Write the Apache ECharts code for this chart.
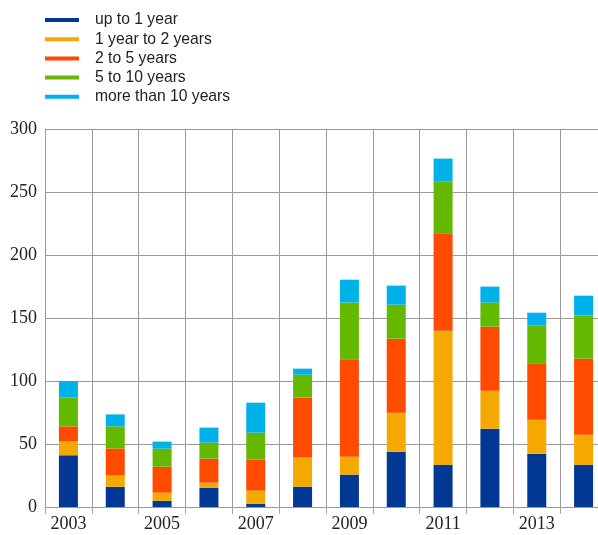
<!DOCTYPE html>
<html><head><meta charset="utf-8">
<script src="https://cdn.jsdelivr.net/npm/echarts@6/dist/echarts.min.js"></script>
<style>html,body{margin:0;padding:0;background:#fff;overflow:hidden}#c{width:598px;height:535px}</style>
</head><body><div id="c"></div>
<script>
const categories = ['2003','2004','2005','2006','2007','2008','2009','2010','2011','2012','2013','2014'];
const seriesNames = ['up to 1 year','1 year to 2 years','2 to 5 years','5 to 10 years','more than 10 years'];
const upTo1 = [41, 16, 5, 15.3, 2.6, 16.1, 25.7, 43.9, 33.6, 62.2, 42.3, 33.6];
const y1to2 = [11, 9, 6.4, 4, 10.4, 23.1, 14.2, 31, 106.3, 30.1, 27, 23.8];
const y2to5 = [12, 21.5, 20.6, 19.1, 24.8, 47.8, 77.3, 58.7, 77.3, 50.8, 44.7, 60.3];
const y5to10 = [23, 17.5, 14.3, 12.7, 21.2, 18, 45, 27, 41.3, 19.1, 30.2, 34.4];
const over10 = [13, 9.5, 5.6, 11.9, 23.8, 4.8, 18.2, 15.1, 18, 12.7, 10, 15.6];
const yTicks = [0, 50, 100, 150, 200, 250, 300];

const colors = ['#003894', '#f5a800', '#ff4b00', '#65b800', '#00b1ea'];
const values = [upTo1, y1to2, y2to5, y5to10, over10];

const chart = echarts.init(document.getElementById('c'));
chart.setOption({
  animation: false,
  color: colors,
  legend: {
    orient: 'vertical', left: 40, top: 7,
    icon: 'rect', itemWidth: 34, itemHeight: 4, itemGap: 3.2,
    textStyle: { fontFamily: 'Liberation Sans', fontSize: 15.7, color: '#222', lineHeight: 16, padding: [0,0,0,11] },
    data: seriesNames
  },
  grid: { left: 45, top: 129, bottom: 28, right: -9, containLabel: false, outerBoundsMode: 'none' },
  xAxis: {
    type: 'category', data: categories,
    axisLine: { lineStyle: { color: '#999', width: 1 } },
    axisTick: { show: true, interval: 0, length: 7, lineStyle: { color: '#aaa' } },
    axisLabel: { interval: 1, fontFamily: 'Liberation Serif', fontSize: 18, color: '#222', margin: 8 },
    splitLine: { show: true, interval: 0, lineStyle: { color: '#999', width: 1 } }
  },
  yAxis: {
    type: 'value', min: yTicks[0], max: yTicks[yTicks.length-1], interval: 50,
    axisLine: { show: true, lineStyle: { color: '#999' } },
    axisTick: { show: false },
    axisLabel: { fontFamily: 'Liberation Serif', fontSize: 18, color: '#222', margin: 8 },
    splitLine: { lineStyle: { color: '#999', width: 1 } }
  },
  series: seriesNames.map((n, i) => ({
    name: n, type: 'bar', stack: 'total', barWidth: 19,
    data: values[i], itemStyle: { color: colors[i] }
  }))
});
</script></body></html>
